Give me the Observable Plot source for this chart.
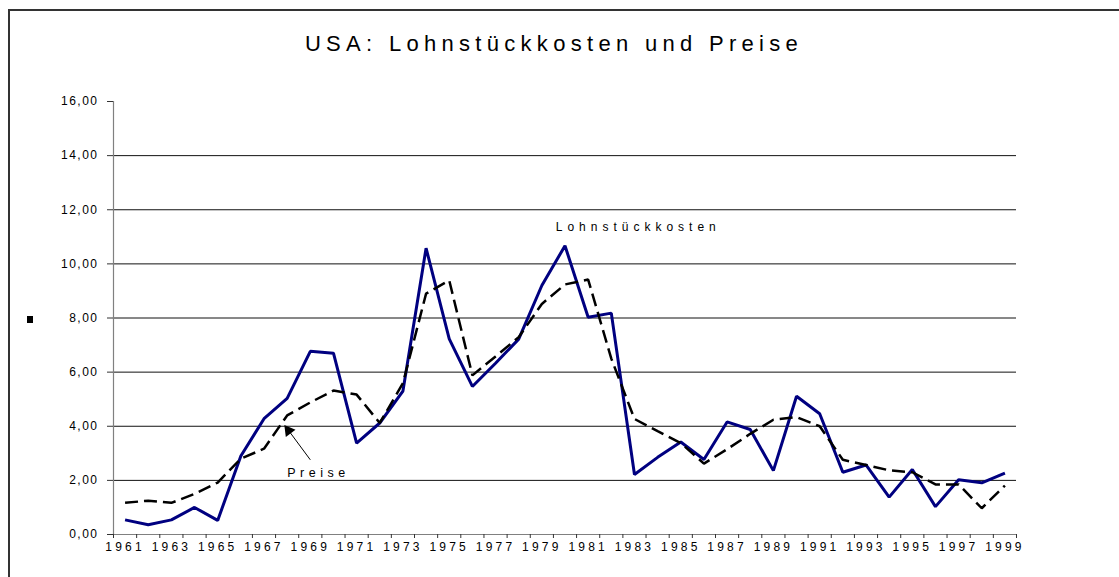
<!DOCTYPE html>
<html>
<head>
<meta charset="utf-8">
<script src="https://cdn.jsdelivr.net/npm/d3@7"></script>
<script src="https://cdn.jsdelivr.net/npm/@observablehq/plot@0.6"></script>
<style>
  html, body { margin: 0; padding: 0; background: #fff; }
  #wrap { position: relative; width: 1119px; height: 577px; overflow: hidden; font-family: "Liberation Sans", Arial, sans-serif; }
  #frame { position: absolute; left: 8px; top: 9px; width: 1200px; height: 700px; border-left: 2px solid #333; border-top: 2px solid #333; box-sizing: border-box; }
  #title { position: absolute; left: 0; top: 31px; width: 1108px; text-align: center; font-size: 22px; letter-spacing: 5.3px; color: #000; }
  #marker { position: absolute; left: 27px; top: 316px; width: 6px; height: 7px; background: #000; }
  #chart { position: absolute; left: 0; top: 0; }
  g[aria-label="y-axis tick label"] text { letter-spacing: 1.5px; }
  g[aria-label="x-axis tick label"] text { letter-spacing: 3.2px; }
  .annL text { letter-spacing: 5px; }
  .annP text { letter-spacing: 4.5px; }
</style>
</head>
<body>
<div id="wrap">
  <div id="frame"></div>
  <div id="title">USA: Lohnstückkosten und Preise</div>
  <div id="marker"></div>
  <div id="chart"></div>
</div>
<script>
const years = [1961,1962,1963,1964,1965,1966,1967,1968,1969,1970,1971,1972,1973,1974,1975,1976,1977,1978,1979,1980,1981,1982,1983,1984,1985,1986,1987,1988,1989,1990,1991,1992,1993,1994,1995,1996,1997,1998,1999];
const lohnstueckkosten = [0.54,0.36,0.54,1.00,0.52,2.90,4.28,5.03,6.77,6.70,3.38,4.12,5.30,10.58,7.23,5.47,6.33,7.22,9.20,10.67,8.03,8.18,2.22,2.85,3.42,2.77,4.16,3.88,2.36,5.11,4.46,2.30,2.57,1.38,2.40,1.03,2.02,1.91,2.27];
const preise = [1.17,1.25,1.17,1.50,1.92,2.80,3.17,4.40,4.88,5.32,5.17,4.12,5.59,8.90,9.39,5.88,6.58,7.29,8.52,9.24,9.42,6.50,4.27,3.82,3.38,2.62,3.15,3.72,4.24,4.34,4.00,2.76,2.57,2.37,2.30,1.85,1.85,0.97,1.81];
const yTicks = [0,2,4,6,8,10,12,14,16];
const gridValues = [2,4,6,8,10,12,14];
const xLabelYears = years.filter(y => y % 2 === 1);
const xBoundaries = d3.range(1960.5, 2000, 1);
const labelLohn = [{x: 1979.6, y: 11.35, text: "Lohnstückkosten"}];
const labelPreise = [{x: 1969.35, y: 2.28, text: "Preise"}];
const arrowPreise = [{x1: 1969.0, y1: 2.76, x2: 1967.97, y2: 3.95}];
const arrowHead = [{x: 1968.06, y: 3.84}];

const data = years.map((year, i) => ({year, lohn: lohnstueckkosten[i], preise: preise[i]}));

const chart = Plot.plot({
  width: 1119,
  height: 577,
  marginLeft: 113,
  marginRight: 103,
  marginTop: 101,
  marginBottom: 43,
  style: {fontFamily: "'Liberation Sans', Arial, sans-serif", fontSize: "12px", background: "transparent", color: "#000"},
  x: {domain: [1960.5, 1999.5]},
  y: {domain: [0, 16]},
  marks: [
    Plot.ruleY(gridValues, {stroke: "#111", strokeWidth: 1, strokeOpacity: 1}),
    Plot.ruleY([0], {stroke: "#808080", strokeWidth: 1.2}),
    Plot.ruleX([1960.5], {y1: 0, y2: 16, stroke: "#808080", strokeWidth: 1.2}),
    Plot.axisY({ticks: yTicks, tickSize: 6, tickPadding: 9, tickFormat: d => d.toFixed(2).replace(".", ","), stroke: "#333", label: null, fontSize: 12}),
    Plot.axisX({ticks: xBoundaries, tickSize: 4, tickFormat: () => "", stroke: "#333", label: null}),
    Plot.axisX({ticks: xLabelYears, tickSize: 0, tickPadding: 8, tickFormat: d => String(d), label: null, fontSize: 12}),
    Plot.line(data, {x: "year", y: "lohn", stroke: "#000080", strokeWidth: 3, strokeLinejoin: "miter", strokeLinecap: "butt"}),
    Plot.line(data, {x: "year", y: "preise", stroke: "#000", strokeWidth: 2.5, strokeDasharray: "13,6", strokeLinejoin: "miter", strokeLinecap: "butt"}),
    Plot.link(arrowPreise, {x1: "x1", y1: "y1", x2: "x2", y2: "y2", stroke: "#000", strokeWidth: 1}),
    Plot.dot(arrowHead, {x: "x", y: "y", symbol: "triangle", r: 4.5, fill: "#000", stroke: "none", rotate: -37}),
    Plot.text(labelLohn, {x: "x", y: "y", text: "text", textAnchor: "start", fontSize: 12, fill: "#000", className: "annL"}),
    Plot.text(labelPreise, {x: "x", y: "y", text: "text", textAnchor: "middle", fontSize: 12.5, fill: "#000", className: "annP"})
  ]
});
document.getElementById("chart").appendChild(chart);
</script>
</body>
</html>
